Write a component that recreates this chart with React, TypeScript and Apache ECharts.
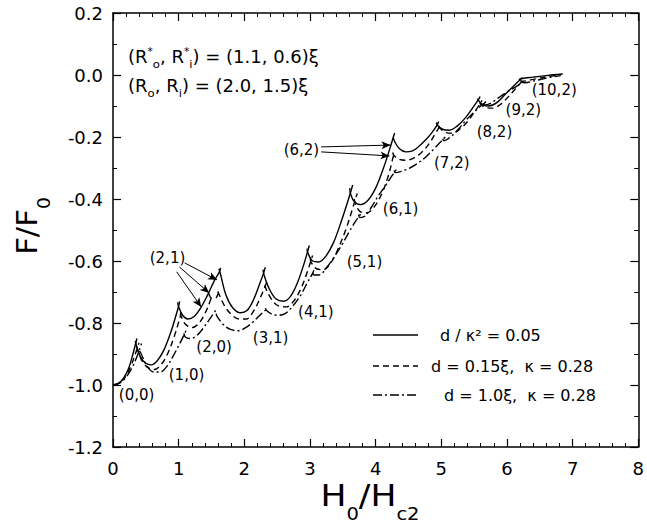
import React, { useEffect, useRef } from "react";
import * as echarts from "echarts";

const FONT = "DejaVu Sans";

// Axis ranges / ticks
const X_MIN = 0, X_MAX = 8, X_STEP = 1;
const Y_MIN = -1.2, Y_MAX = 0.2, Y_STEP = 0.2;

// Solid curve arcs: d / kappa^2 = 0.05
const SOLID_ARCS: number[][][] = [
  [[0, -1.0], [0.08, -0.995], [0.16, -0.978], [0.24, -0.945], [0.31, -0.895], [0.35, -0.862], [0.365, -0.85]],
  [[0.34, -0.858], [0.36, -0.875], [0.42, -0.91], [0.5, -0.93], [0.58, -0.935], [0.68, -0.92], [0.78, -0.885], [0.88, -0.83], [0.96, -0.775], [1.0, -0.745], [1.015, -0.73]],
  [[0.985, -0.733], [1.0, -0.748], [1.06, -0.775], [1.14, -0.787], [1.24, -0.778], [1.34, -0.75], [1.44, -0.71], [1.54, -0.665], [1.62, -0.635], [1.64, -0.622]],
  [[1.615, -0.625], [1.64, -0.645], [1.72, -0.71], [1.82, -0.75], [1.94, -0.767], [2.04, -0.76], [2.14, -0.725], [2.24, -0.67], [2.3, -0.635], [2.32, -0.62]],
  [[2.285, -0.628], [2.3, -0.645], [2.38, -0.69], [2.48, -0.722], [2.6, -0.73], [2.7, -0.715], [2.8, -0.675], [2.9, -0.615], [2.97, -0.565], [2.99, -0.55]],
  [[2.955, -0.56], [2.97, -0.575], [3.04, -0.6], [3.13, -0.603], [3.24, -0.585], [3.36, -0.54], [3.48, -0.47], [3.58, -0.405], [3.63, -0.37], [3.65, -0.355]],
  [[3.605, -0.365], [3.62, -0.385], [3.68, -0.41], [3.77, -0.418], [3.88, -0.405], [4.0, -0.365], [4.12, -0.3], [4.22, -0.235], [4.27, -0.2], [4.29, -0.187]],
  [[4.27, -0.202], [4.29, -0.215], [4.36, -0.237], [4.46, -0.248], [4.56, -0.245], [4.66, -0.23], [4.76, -0.21], [4.86, -0.185], [4.94, -0.16], [4.96, -0.15]],
  [[4.925, -0.153], [4.94, -0.162], [5.02, -0.175], [5.12, -0.178], [5.24, -0.165], [5.36, -0.14], [5.48, -0.105], [5.57, -0.078], [5.59, -0.069]],
  [[5.555, -0.076], [5.57, -0.083], [5.64, -0.097], [5.72, -0.1], [5.84, -0.09], [5.96, -0.065], [6.08, -0.04], [6.2, -0.015], [6.235, -0.008]],
  [[6.18, -0.015], [6.22, -0.012], [6.4, -0.007], [6.6, -0.002], [6.85, 0.003]],
];

// Dashed curve arcs: d = 0.15 xi, kappa = 0.28
const DASHED_ARCS: number[][][] = [
  [[0, -1.0], [0.1, -0.993], [0.2, -0.97], [0.28, -0.935], [0.34, -0.9], [0.38, -0.875], [0.395, -0.864]],
  [[0.365, -0.877], [0.38, -0.89], [0.45, -0.925], [0.54, -0.945], [0.63, -0.95], [0.73, -0.935], [0.83, -0.9], [0.93, -0.845], [1.01, -0.79], [1.04, -0.765], [1.055, -0.752]],
  [[1.025, -0.768], [1.04, -0.78], [1.1, -0.803], [1.2, -0.815], [1.3, -0.803], [1.4, -0.77], [1.47, -0.735], [1.5, -0.715]],
  [[1.46, -0.705], [1.5, -0.72], [1.56, -0.72], [1.6, -0.705]],
  [[1.595, -0.698], [1.62, -0.71], [1.7, -0.745], [1.8, -0.772], [1.92, -0.787], [2.03, -0.787], [2.14, -0.762], [2.24, -0.72], [2.32, -0.68], [2.345, -0.666]],
  [[2.315, -0.678], [2.33, -0.69], [2.42, -0.725], [2.52, -0.745], [2.64, -0.748], [2.75, -0.73], [2.86, -0.69], [2.96, -0.635], [3.02, -0.595], [3.04, -0.582]],
  [[3.005, -0.593], [3.02, -0.605], [3.1, -0.625], [3.2, -0.628], [3.32, -0.605], [3.44, -0.555], [3.56, -0.49], [3.65, -0.43], [3.7, -0.395], [3.72, -0.382]],
  [[3.675, -0.4], [3.69, -0.415], [3.76, -0.44], [3.86, -0.445], [3.98, -0.425], [4.1, -0.38], [4.2, -0.32], [4.26, -0.27], [4.285, -0.25]],
  [[4.26, -0.25], [4.28, -0.26], [4.36, -0.272], [4.46, -0.275], [4.58, -0.268], [4.7, -0.25], [4.82, -0.22], [4.92, -0.185], [4.98, -0.165], [5.0, -0.155]],
  [[4.965, -0.164], [4.98, -0.172], [5.06, -0.185], [5.16, -0.188], [5.28, -0.175], [5.4, -0.15], [5.52, -0.115], [5.6, -0.09], [5.62, -0.082]],
  [[5.585, -0.088], [5.6, -0.095], [5.68, -0.105], [5.78, -0.107], [5.9, -0.095], [6.02, -0.07], [6.14, -0.042], [6.23, -0.02], [6.26, -0.012]],
  [[6.2, -0.018], [6.24, -0.02], [6.4, -0.014], [6.6, -0.006], [6.8, 0.0]],
];

// Dash-dot curve arcs: d = 1.0 xi, kappa = 0.28
const DASHDOT_ARCS: number[][][] = [
  [[0, -1.0], [0.1, -0.994], [0.2, -0.975], [0.3, -0.94], [0.38, -0.9], [0.42, -0.875], [0.435, -0.866]],
  [[0.405, -0.89], [0.43, -0.9], [0.52, -0.94], [0.62, -0.958], [0.72, -0.958], [0.82, -0.94], [0.92, -0.905], [1.02, -0.865], [1.1, -0.83], [1.12, -0.82]],
  [[1.08, -0.833], [1.1, -0.845], [1.18, -0.85], [1.28, -0.84], [1.38, -0.815], [1.48, -0.785], [1.56, -0.76], [1.58, -0.75]],
  [[1.57, -0.77], [1.59, -0.78], [1.68, -0.805], [1.78, -0.82], [1.9, -0.825], [2.02, -0.815], [2.14, -0.795], [2.26, -0.77], [2.34, -0.755], [2.36, -0.75]],
  [[2.32, -0.752], [2.34, -0.76], [2.42, -0.772], [2.52, -0.775], [2.62, -0.77], [2.74, -0.745], [2.86, -0.71], [2.96, -0.67], [3.04, -0.64], [3.06, -0.63]],
  [[3.04, -0.638], [3.06, -0.645], [3.14, -0.645], [3.24, -0.625], [3.36, -0.59], [3.48, -0.55], [3.6, -0.505], [3.7, -0.47], [3.76, -0.452], [3.78, -0.445]],
  [[3.74, -0.45], [3.76, -0.46], [3.84, -0.455], [3.94, -0.425], [4.04, -0.39], [4.14, -0.36], [4.24, -0.328], [4.3, -0.31], [4.32, -0.303]],
  [[4.28, -0.308], [4.3, -0.315], [4.4, -0.31], [4.52, -0.3], [4.64, -0.285], [4.76, -0.265], [4.88, -0.24], [4.98, -0.218], [5.04, -0.205], [5.06, -0.2]],
  [[5.02, -0.206], [5.04, -0.212], [5.14, -0.2], [5.26, -0.175], [5.38, -0.145], [5.5, -0.12], [5.6, -0.1], [5.66, -0.09], [5.68, -0.085]],
  [[5.64, -0.091], [5.66, -0.097], [5.76, -0.09], [5.88, -0.072], [6.0, -0.055], [6.12, -0.04], [6.22, -0.026], [6.26, -0.02]],
  [[6.22, -0.022], [6.27, -0.025], [6.45, -0.017], [6.65, -0.008], [6.82, -0.002]],
];

// State labels (vorticity, vortex number) placed in data units
const STATE_LABELS = ["(0,0)", "(1,0)", "(2,0)", "(3,1)", "(4,1)", "(5,1)", "(6,1)", "(7,2)", "(8,2)", "(9,2)", "(10,2)", "(2,1)", "(6,2)"];
const STATE_LABEL_X = [0.36, 1.12, 1.54, 2.4, 3.09, 3.83, 4.38, 5.16, 5.81, 6.25, 6.72, 0.83, 2.87];
const STATE_LABEL_Y = [-1.032, -0.968, -0.877, -0.848, -0.765, -0.603, -0.432, -0.284, -0.184, -0.113, -0.048, -0.59, -0.242];

// Arrows from labels (2,1) and (6,2) to their curve points
const ARROW_FROM = [[1.09, -0.606], [1.01, -0.619], [0.97, -0.635], [3.17, -0.232], [3.17, -0.248]];
const ARROW_TO = [[1.585, -0.661], [1.464, -0.703], [1.343, -0.748], [4.226, -0.226], [4.211, -0.261]];

const LEGEND_TEXTS = ["d / κ² = 0.05", "d = 0.15ξ,  κ = 0.28", "d = 1.0ξ,  κ = 0.28"];

export default function App() {
  const ref = useRef<HTMLDivElement>(null);
  useEffect(() => {
    if (!ref.current) return;
    const chart = echarts.init(ref.current, null, { renderer: "svg" });

    const styles: any[] = [
      { arcs: SOLID_ARCS, type: "solid" },
      { arcs: DASHED_ARCS, type: [6, 4] },
      { arcs: DASHDOT_ARCS, type: [9, 3, 2, 3] },
    ];
    const series: any[] = [];
    styles.forEach((s) => {
      s.arcs.forEach((arc: number[][]) => {
        series.push({
          type: "line",
          data: arc,
          showSymbol: false,
          symbol: "none",
          smooth: 0.35,
          silent: true,
          lineStyle: { color: "#000", width: 1.4, type: s.type },
        });
      });
    });

    series.push({
      type: "scatter",
      silent: true,
      symbolSize: 0,
      itemStyle: { color: "#000" },
      data: STATE_LABELS.map((t, i) => ({
        value: [STATE_LABEL_X[i], STATE_LABEL_Y[i]],
        label: {
          show: true,
          formatter: t,
          position: "inside",
          color: "#000",
          fontSize: 15,
          fontFamily: FONT,
          textBorderWidth: 0,
          opacity: 1,
        },
      })),
      markLine: {
        silent: true,
        symbol: ["none", "arrow"],
        symbolSize: [6, 9],
        label: { show: false },
        lineStyle: { color: "#000", width: 1, type: "solid", opacity: 1 },
        data: ARROW_FROM.map((f, i) => [{ coord: f }, { coord: ARROW_TO[i] }]),
      },
    });

    const axisCommon = {
      type: "value",
      axisLine: { show: true, onZero: false, lineStyle: { color: "#000", width: 1.5 } },
      axisTick: { show: true, inside: true, length: 8, lineStyle: { color: "#000", width: 1.2 } },
      splitLine: { show: false },
    };

    const labelFont = { color: "#000", fontSize: 18, fontFamily: FONT };

    const subRich = (big: number, small: number, subPad: number) => ({
      b: { fontSize: big, fontFamily: FONT, color: "#000", lineHeight: 50, verticalAlign: "top", padding: [1, 0, 0, 0] },
      s: { fontSize: small, fontFamily: FONT, color: "#000", lineHeight: 50, verticalAlign: "top", padding: [subPad, 0, 0, 0] },
    });

    const annRich = {
      m: { fontSize: 17, fontFamily: FONT, color: "#000", lineHeight: 26, verticalAlign: "top", padding: [4, 0, 0, 0] },
      sup: { fontSize: 10, fontFamily: FONT, color: "#000", lineHeight: 26, verticalAlign: "top", padding: [1, 0, 0, 0] },
      sub: { fontSize: 11, fontFamily: FONT, color: "#000", lineHeight: 26, verticalAlign: "top", padding: [14, 0, 0, 0] },
    };

    const legendY = [335, 366, 395];
    const legendTextX = [440, 431, 444];
    const legendDash: any[] = [null, [6, 4], [9, 3, 2, 3]];
    const legendGraphics: any[] = [];
    LEGEND_TEXTS.forEach((t, i) => {
      legendGraphics.push({
        type: "line",
        shape: { x1: 373, y1: legendY[i], x2: 418, y2: legendY[i] },
        style: { stroke: "#000", lineWidth: 1.4, lineDash: legendDash[i] || undefined },
        silent: true,
      });
      legendGraphics.push({
        type: "text",
        x: legendTextX[i],
        y: legendY[i],
        style: { text: t, fill: "#000", fontSize: 16, fontFamily: FONT, verticalAlign: "middle", align: "left" },
        silent: true,
      });
    });

    chart.setOption({
      animation: false,
      backgroundColor: "#fff",
      grid: { left: 113, right: 4, top: 13, bottom: 76, containLabel: false },
      xAxis: [
        {
          ...axisCommon,
          position: "bottom",
          min: X_MIN,
          max: X_MAX,
          interval: X_STEP,
          minorTick: { show: true, splitNumber: 5, length: 4, lineStyle: { color: "#000", width: 1 } },
          axisLabel: { ...labelFont, margin: 12 },
        },
        {
          ...axisCommon,
          position: "top",
          min: X_MIN,
          max: X_MAX,
          interval: X_STEP,
          minorTick: { show: true, splitNumber: 5, length: 4, lineStyle: { color: "#000", width: 1 } },
          axisLabel: { show: false },
        },
      ],
      yAxis: [
        {
          ...axisCommon,
          position: "left",
          min: Y_MIN,
          max: Y_MAX,
          interval: Y_STEP,
          minorTick: { show: true, splitNumber: 2, length: 4, lineStyle: { color: "#000", width: 1 } },
          axisLabel: { ...labelFont, margin: 10, formatter: (v: number) => v.toFixed(1) },
        },
        {
          ...axisCommon,
          position: "right",
          min: Y_MIN,
          max: Y_MAX,
          interval: Y_STEP,
          minorTick: { show: true, splitNumber: 2, length: 4, lineStyle: { color: "#000", width: 1 } },
          axisLabel: { show: false },
        },
      ],
      graphic: [
        {
          type: "text",
          x: 128,
          y: 45,
          scaleX: 1.06,
          silent: true,
          style: {
            text: "{m|(R}{sup|*}{sub|o}{m|, R}{sup|*}{sub|i}{m|) = (1.1, 0.6)ξ}",
            rich: annRich,
            align: "left",
            verticalAlign: "top",
          },
        },
        {
          type: "text",
          x: 128,
          y: 74,
          scaleX: 1.06,
          silent: true,
          style: {
            text: "{m|(R}{sub|o}{m|, R}{sub|i}{m|) = (2.0, 1.5)ξ}",
            rich: annRich,
            align: "left",
            verticalAlign: "top",
          },
        },
        {
          type: "text",
          x: 370,
          y: 480,
          scaleX: 1.15,
          silent: true,
          style: {
            text: "{b|H}{s|0}{b|/H}{s|c2}",
            rich: subRich(30, 17, 25),
            align: "center",
            verticalAlign: "top",
          },
        },
        {
          type: "text",
          x: 37,
          y: 226,
          rotation: Math.PI / 2,
          scaleX: 1.1,
          silent: true,
          style: {
            text: "{b|F/F}{s|0}",
            rich: subRich(28, 17, 23),
            align: "center",
            verticalAlign: "middle",
          },
        },
        ...legendGraphics,
      ],
      series,
    });
    return () => chart.dispose();
  }, []);
  return <div ref={ref} style={{ position: "fixed", left: 0, top: 0, width: 647, height: 523, background: "#fff" }} />;
}
